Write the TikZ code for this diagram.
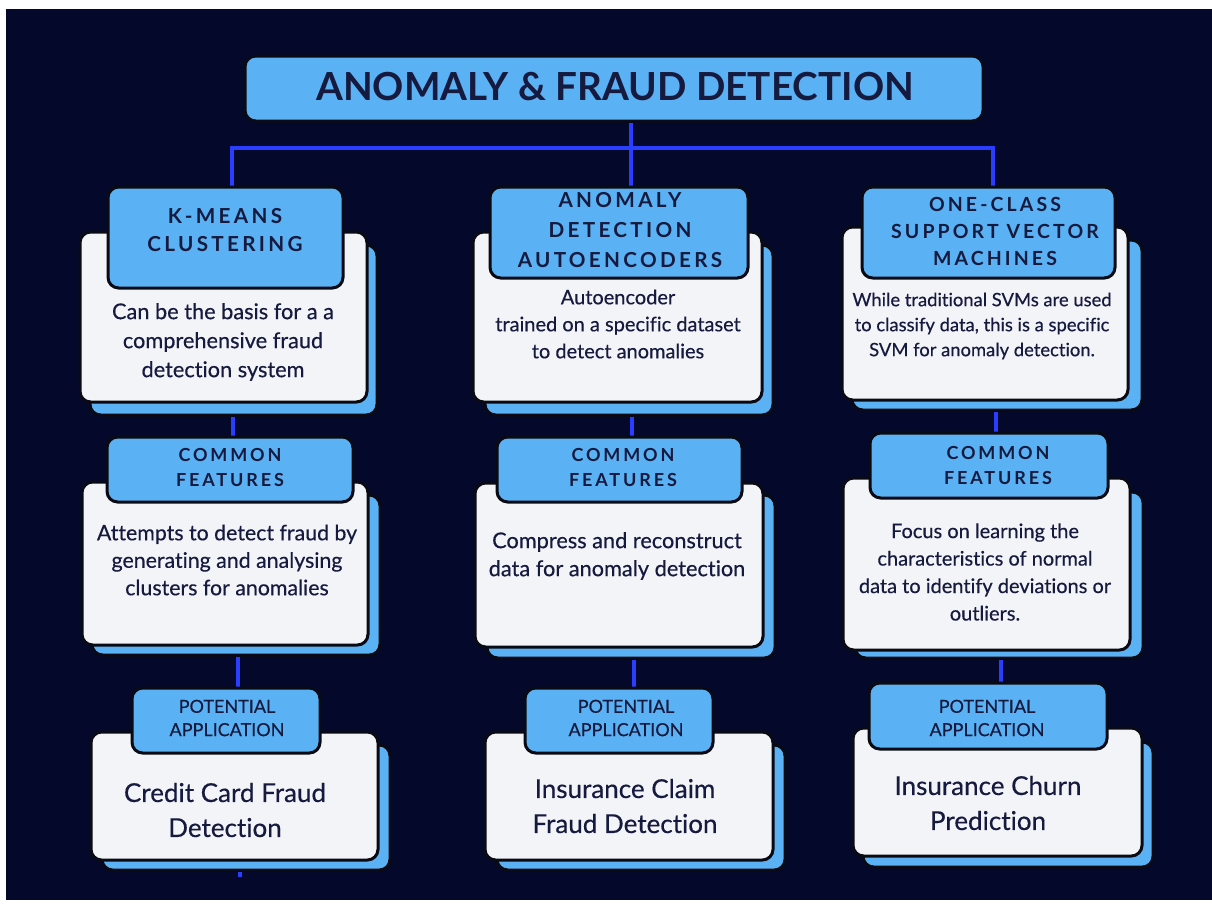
\documentclass[tikz,border=0pt]{standalone}
\usepackage{fontspec}
\setmainfont{Lato}[Ligatures=NoCommon, FakeBold=0.4]
\newfontfamily\headfont{Lato}[LetterSpace=16, Ligatures=NoCommon]
\newfontfamily\titlefont{Lato}[Ligatures=NoCommon]
\usetikzlibrary{fit,backgrounds}

\definecolor{navy}{RGB}{4,9,44}
\definecolor{sky}{RGB}{90,178,245}
\definecolor{paper}{RGB}{243,244,247}
\definecolor{ink}{RGB}{22,26,62}
\definecolor{wireblue}{RGB}{42,62,255}
\definecolor{edge}{RGB}{10,10,20}

\tikzset{
  boxbase/.style={draw=edge, line width=2.25pt, rounded corners=8pt, inner sep=0pt},
  backcard/.style={boxbase, fill=sky},
  frontcard/.style={boxbase, fill=paper},
  headcard/.style={boxbase, fill=sky},
  label/.style={text=ink, align=center, inner sep=0pt},
  headlabel/.style={label, font=\headfont\bfseries},
  applabel/.style={label, font=\fontsize{13.5}{17.5}\selectfont},
  wire/.style={draw=wireblue, line width=3pt},
}

\begin{document}
\begin{tikzpicture}[x=0.75pt,y=-0.75pt]
  % page and dark canvas
  \useasboundingbox (0,0) rectangle (1212,907);
  \begin{scope}[on background layer]
    \fill[white] (0,0) rectangle (1212,907);
    \fill[navy] (6,9) rectangle (1212,900);
  \end{scope}

  % title
  \node[headcard, fit={(245,56) (983,121)}] (title) {};
  \node[label, font=\titlefont\bfseries\fontsize{29}{34}\selectfont] (title-text) at (615,87) {ANOMALY \& FRAUD DETECTION};

  % ---------- column 1: k-means ----------
  \node[backcard, fit={(90,245) (377,415)}] (k-back) {};
  \node[frontcard, fit={(80,232) (367,402)}] (k-card) {};
  \node[headcard, fit={(108,187) (343,288)}] (k-head) {};
  \node[headlabel, font=\headfont\bfseries\fontsize{15.5}{21.5}\selectfont] (k-title) at (225,230) {K-MEANS\\CLUSTERING};
  \node[label, font=\fontsize{16.3}{21.75}\selectfont] (k-text) at (223,342)
    {Can be the basis for a a\\comprehensive fraud\\detection system};

  \node[backcard, fit={(92,495) (380,655)}] (kc-back) {};
  \node[frontcard, fit={(82,482) (368,645)}] (kc-card) {};
  \node[headcard, fit={(107,437) (353,502)}] (kc-head) {};
  \node[headlabel, font=\headfont\bfseries\fontsize{13.5}{18.75}\selectfont] (kc-title) at (230,467) {COMMON\\FEATURES};
  \node[label, font=\fontsize{16}{20.6}\selectfont] (kc-text) at (227,560)
    {Attempts to detect fraud by\\generating and analysing\\clusters for anomalies};

  \node[backcard, fit={(102,745) (390,870)}] (kp-back) {};
  \node[frontcard, fit={(91,732) (378,860)}] (kp-card) {};
  \node[headcard, fit={(132,688) (320,753)}] (kp-head) {};
  \node[applabel] (kp-title) at (227,718) {POTENTIAL\\APPLICATION};
  \node[label, font=\fontsize{19.5}{26.25}\selectfont] (kp-text) at (225,810)
    {Credit Card Fraud\\Detection};

  % ---------- column 2: autoencoders ----------
  \node[backcard, fit={(485,245) (773,415)}] (ae-back) {};
  \node[frontcard, fit={(473,232) (762,402)}] (ae-card) {};
  \node[headcard, fit={(490,187) (748,278)}] (ae-head) {};
  \node[headlabel, font=\headfont\bfseries\fontsize{15.5}{22.5}\selectfont] (ae-title) at (620,230) {ANOMALY\\DETECTION\\AUTOENCODERS};
  \node[label, font=\fontsize{15}{20.25}\selectfont] (ae-text) at (618,324)
    {Autoencoder\\trained on a specific dataset\\to detect anomalies};

  \node[backcard, fit={(487,495) (775,658)}] (aec-back) {};
  \node[frontcard, fit={(475,483) (763,647)}] (aec-card) {};
  \node[headcard, fit={(497,437) (742,502)}] (aec-head) {};
  \node[headlabel, font=\headfont\bfseries\fontsize{13.5}{18.75}\selectfont] (aec-title) at (623,467) {COMMON\\FEATURES};
  \node[label, font=\fontsize{16.3}{21}\selectfont] (aec-text) at (617,556)
    {Compress and reconstruct\\data for anomaly detection};

  \node[backcard, fit={(497,745) (785,870)}] (aep-back) {};
  \node[frontcard, fit={(485,732) (773,860)}] (aep-card) {};
  \node[headcard, fit={(525,688) (713,753)}] (aep-head) {};
  \node[applabel] (aep-title) at (626,718) {POTENTIAL\\APPLICATION};
  \node[label, font=\fontsize{19.5}{26.25}\selectfont] (aep-text) at (625,806)
    {Insurance Claim\\Fraud Detection};

  % ---------- column 3: one-class svm ----------
  \node[backcard, fit={(852,240) (1142,410)}] (sv-back) {};
  \node[frontcard, fit={(842,227) (1128,400)}] (sv-card) {};
  \node[headcard, fit={(862,187) (1115,278)}] (sv-head) {};
  \node[headlabel, font=\headfont\bfseries\fontsize{14.6}{20.25}\selectfont] (sv-title) at (995,231) {ONE-CLASS\\SUPPORT VECTOR\\MACHINES};
  \node[label, font=\fontsize{13.8}{18.75}\selectfont] (sv-text) at (982,326)
    {While traditional SVMs are used\\to classify data, this is a specific\\SVM for anomaly detection.};

  \node[backcard, fit={(855,492) (1143,658)}] (svc-back) {};
  \node[frontcard, fit={(843,478) (1130,650)}] (svc-card) {};
  \node[headcard, fit={(870,433) (1108,498)}] (svc-head) {};
  \node[headlabel, font=\headfont\bfseries\fontsize{13.5}{18.75}\selectfont] (svc-title) at (998,465) {COMMON\\FEATURES};
  \node[label, font=\fontsize{15}{20.6}\selectfont] (svc-text) at (985,572)
    {Focus on learning the\\characteristics of normal\\data to identify deviations or\\outliers.};

  \node[backcard, fit={(863,742) (1153,867)}] (svp-back) {};
  \node[frontcard, fit={(853,728) (1142,856)}] (svp-card) {};
  \node[headcard, fit={(869,683) (1107,749)}] (svp-head) {};
  \node[applabel] (svp-title) at (987,718) {POTENTIAL\\APPLICATION};
  \node[label, font=\fontsize{19.5}{26.25}\selectfont] (svp-text) at (988,803)
    {Insurance Churn\\Prediction};

  % ---------- connectors (behind the cards) ----------
  \coordinate (bar) at (0,148);
  \coordinate (mx) at (631,0);
  \coordinate (lx) at (232,0);
  \coordinate (rx) at (993,0);
  \coordinate (c1a) at (233,0);
  \coordinate (c1b) at (238,0);
  \coordinate (c2a) at (632,0);
  \coordinate (c2b) at (634,0);
  \coordinate (c3a) at (996,0);
  \coordinate (c3b) at (1001,0);
  \coordinate (k-end) at (240,877);
  \begin{scope}[on background layer]
    \draw[wire] (title.south -| mx) -- (ae-head.north -| mx);
    \draw[wire] (k-head.north -| lx) -- (lx |- bar) -- (rx |- bar) -- (sv-head.north -| rx);
    \draw[wire] (k-back.south -| c1a) -- (kc-head.north -| c1a);
    \draw[wire] (kc-back.south -| c1b) -- (kp-head.north -| c1b);
    \draw[wire] (kp-back.south -| k-end) -- (k-end);
    \draw[wire] (ae-back.south -| c2a) -- (aec-head.north -| c2a);
    \draw[wire] (aec-back.south -| c2b) -- (aep-head.north -| c2b);
    \draw[wire] (sv-back.south -| c3a) -- (svc-head.north -| c3a);
    \draw[wire] (svc-back.south -| c3b) -- (svp-head.north -| c3b);
  \end{scope}
\end{tikzpicture}
\end{document}
